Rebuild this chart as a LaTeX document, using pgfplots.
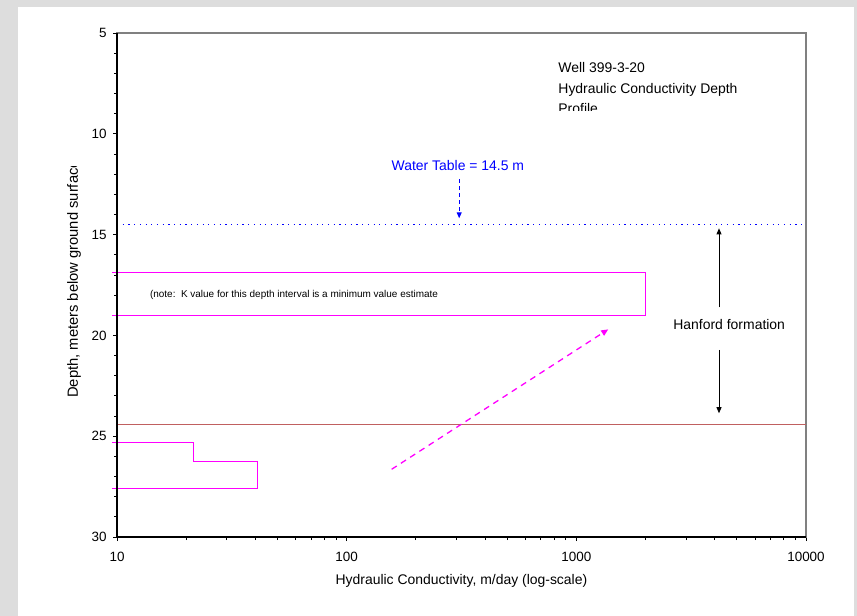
\documentclass[border=0pt]{standalone}
\usepackage{pgfplots}
\pgfplotsset{compat=1.18}
\usepackage{fontspec}
\setmainfont{Liberation Sans}
\usetikzlibrary{arrows.meta}

\definecolor{panelgray}{RGB}{221,221,221}
\definecolor{kmag}{RGB}{255,0,255}
\definecolor{contact}{RGB}{192,96,96}
\definecolor{wtblue}{RGB}{0,0,255}
\definecolor{framegray}{RGB}{128,128,128}

\newcommand{\lbl}{\fontsize{14}{17}\selectfont}
\newcommand{\tck}{\fontsize{13.5}{16}\selectfont}

\begin{document}
\begin{tikzpicture}
\fill[panelgray] (0bp,0bp) rectangle (857bp,616bp);
\fill[white] (18bp,0bp) rectangle (854bp,609bp);
\begin{axis}[
  at={(117bp,79bp)}, anchor=south west,
  scale only axis, width=689bp, height=504bp,
  xmode=log, xmin=10, xmax=10000,
  ymin=5, ymax=30, y dir=reverse,
  xtick={10,100,1000,10000}, xticklabels={10,100,1000,10000},
  ytick={5,10,15,20,25,30}, yticklabels={5,10,15,20,25,30},
  minor y tick num=4,
  xtick pos=bottom, ytick pos=left, tick align=outside,
  major tick length=4bp, minor tick length=3bp,
  every tick/.style={black, line width=0.8pt},
  axis line style={draw=framegray, line width=1.2pt},
  xticklabel style={font=\tck, yshift=-8bp},
  yticklabel style={font=\tck, xshift=-3bp},
  clip=false,
]
% water table and formation contact
\addplot[wtblue, line width=1pt, dash pattern=on 1.2bp off 4.5bp] coordinates {(10,14.5) (10000,14.5)};
\addplot[contact, line width=1pt] coordinates {(10,24.4) (10000,24.4)};

% hydraulic conductivity intervals
\addplot[kmag, line width=1.15pt] coordinates {(9.5,16.9) (2000,16.9) (2000,19.0) (9.5,19.0)};
\addplot[kmag, line width=1.15pt] coordinates {(9.5,25.3) (21.5,25.3) (21.5,26.24) (40.8,26.24) (40.8,27.6) (9.5,27.6)};

% annotations
\node[wtblue, font=\lbl] at (axis cs:305,11.55) {Water Table = 14.5 m};
\draw[wtblue, line width=1pt, dash pattern=on 4bp off 3bp, -{Triangle[length=6bp,width=5bp]}]
  (axis cs:309,12.26) -- (axis cs:309,14.19);
\draw[kmag, line width=1.3pt, dash pattern=on 6bp off 5bp, -{Triangle[length=7bp,width=6bp]}]
  (axis cs:157,26.64) -- (axis cs:1377,19.70);
\draw[black, line width=0.8pt, -{Triangle[length=6bp,width=5bp]}] (axis cs:4180,18.61) -- (axis cs:4180,14.69);
\draw[black, line width=0.8pt, -{Triangle[length=6bp,width=5bp]}] (axis cs:4180,20.72) -- (axis cs:4180,23.86);
\node[font=\lbl] at (axis cs:4630,19.45) {Hanford formation};
\node[font=\fontsize{10}{12}\selectfont, anchor=west, inner sep=0pt] at (axis cs:13.9,17.97)
  {(note:\ \ K value for this depth interval is a minimum value estimate};

\begin{scope}
\clip (axis cs:700,5.5) rectangle (axis cs:5000,8.85);
\node[font=\lbl, anchor=base west, inner sep=0pt] at (axis cs:834,6.97) {Well 399-3-20};
\node[font=\lbl, anchor=base west, inner sep=0pt] at (axis cs:834,7.99) {Hydraulic Conductivity Depth};
\node[font=\lbl, anchor=base west, inner sep=0pt] at (axis cs:834,9.0) {Profile};
\end{scope}

% x axis title
\node[font=\lbl] at (axis cs:316,30) [yshift=-44bp] {Hydraulic Conductivity, m/day (log-scale)};
\end{axis}

% left and bottom axis lines in black
\draw[black, line width=1.3pt] (117bp,583bp) -- (117bp,79bp) -- (806bp,79bp);

% y axis title, cut off by its text box at the top
\begin{scope}
\clip (40bp,150bp) rectangle (100bp,449bp);
\node[font=\fontsize{14.8}{17}\selectfont, rotate=90, anchor=west, inner sep=0pt] at (74bp,218bp)
  {Depth, meters below ground surface};
\end{scope}

\pgfresetboundingbox
\path[use as bounding box] (0bp,0bp) rectangle (857bp,616bp);
\end{tikzpicture}
\end{document}
